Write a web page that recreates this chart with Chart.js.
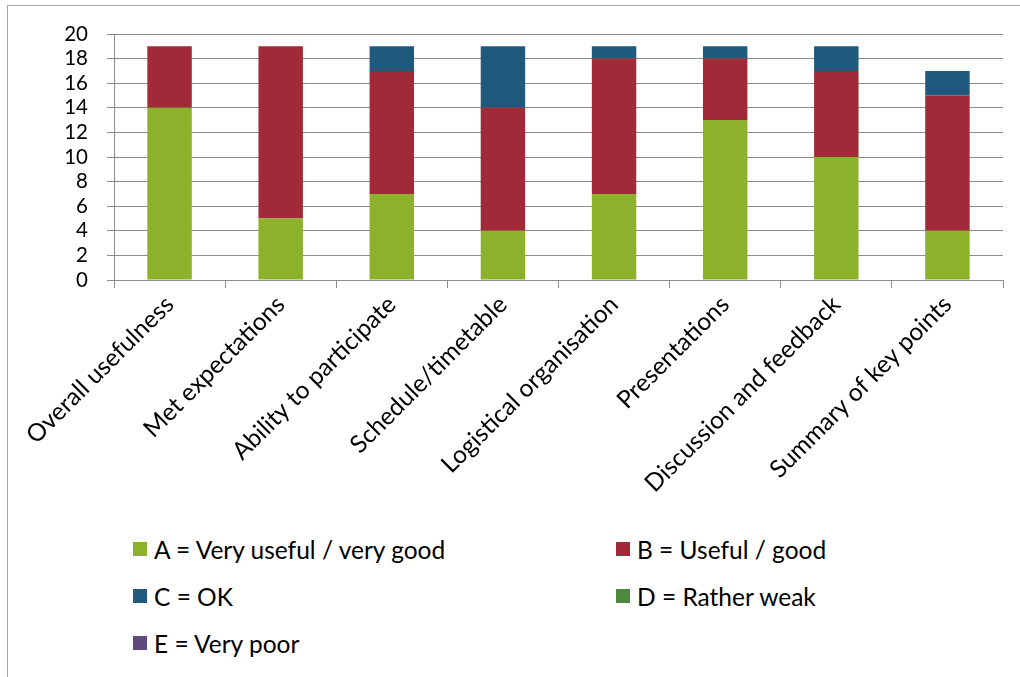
<!DOCTYPE html>
<html>
<head>
<meta charset="utf-8">
<script src="https://cdn.jsdelivr.net/npm/chart.js@4/dist/chart.umd.min.js"></script>
<style>
  html, body { margin: 0; padding: 0; background: #fff; overflow: hidden; }
  body { width: 1020px; height: 677px; position: relative; font-family: Lato, sans-serif; }
  #frame {
    position: absolute; left: 7px; top: 5px; width: 1100px; height: 700px;
    border-left: 1px solid #a6a6a6; border-top: 1px solid #a6a6a6;
  }
  #surveyChart { position: absolute; left: 0; top: 0; }
  .legend-item {
    position: absolute; display: flex; align-items: center;
    font-size: 24.5px; color: #000; white-space: nowrap; height: 30px;
  }
  .legend-item .swatch { width: 14px; height: 14px; margin-right: 7px; flex: none; }
</style>
</head>
<body>
<div id="frame"></div>
<canvas id="surveyChart" width="1020" height="500"></canvas>
<div id="legend"></div>
<script>
// --------------- Data ---------------
const categories = [
  'Overall usefulness',
  'Met expectations',
  'Ability to participate',
  'Schedule/timetable',
  'Logistical organisation',
  'Presentations',
  'Discussion and feedback',
  'Summary of key points',
];

const seriesLabels = [
  'A = Very useful / very good',
  'B = Useful / good',
  'C = OK',
  'D = Rather weak',
  'E = Very poor',
];
const seriesColors = ['#8bb22a', '#a12a38', '#1f5a7d', '#4e8a3e', '#5f4a7b'];

const ratingA = [14, 5, 7, 4, 7, 13, 10, 4];
const ratingB = [5, 14, 10, 10, 11, 5, 7, 11];
const ratingC = [0, 0, 2, 5, 1, 1, 2, 2];
const ratingD = [0, 0, 0, 0, 0, 0, 0, 0];
const ratingE = [0, 0, 0, 0, 0, 0, 0, 0];

const yTicks = [0, 2, 4, 6, 8, 10, 12, 14, 16, 18, 20];

const GRID = '#8c8c8c';

// --------------- Chart ---------------
const datasets = [ratingA, ratingB, ratingC, ratingD, ratingE].map((vals, i) => ({
  label:              seriesLabels[i],
  data:               vals,
  backgroundColor:    seriesColors[i],
  borderWidth:        0,
  barPercentage:      0.4,
  categoryPercentage: 1,
}));

new Chart(document.getElementById('surveyChart').getContext('2d'), {
  type: 'bar',
  data: { labels: categories, datasets },
  options: {
    responsive: false,
    animation: false,
    layout: { padding: { top: 34, right: 17, left: 0, bottom: 0 } },
    plugins: { legend: { display: false }, tooltip: { enabled: false } },
    scales: {
      x: {
        stacked: true,
        afterFit: s => { s.height = 220; },
        grid: {
          offset: true, drawOnChartArea: false, drawTicks: true,
          tickLength: 8, color: GRID, lineWidth: 1,
        },
        border: { color: GRID, width: 1 },
        ticks: {
          minRotation: 45, maxRotation: 45, autoSkip: false, padding: 2,
          color: '#000', font: { family: 'Lato', size: 24.5 },
        },
      },
      y: {
        stacked: true,
        min: 0, max: 20,
        afterFit: s => { s.width = 114; },
        afterBuildTicks: s => { s.ticks = yTicks.map(v => ({ value: v })); },
        grid: { color: GRID, lineWidth: 1, tickLength: 7 },
        border: { color: GRID, width: 1 },
        ticks: {
          autoSkip: false, padding: 19, color: '#000',
          font: { family: 'Lato', size: 20.5 },
        },
      },
    },
  },
});

// --------------- Legend (two columns, row-major) ---------------
const legendEl = document.getElementById('legend');
seriesLabels.forEach((label, i) => {
  const item = document.createElement('div');
  item.className = 'legend-item';
  item.style.left = (i % 2 === 0 ? 133 : 616) + 'px';
  item.style.top  = (534 + Math.floor(i / 2) * 47) + 'px';
  const sw = document.createElement('span');
  sw.className = 'swatch';
  sw.style.background = seriesColors[i];
  const txt = document.createElement('span');
  txt.textContent = label;
  item.appendChild(sw);
  item.appendChild(txt);
  legendEl.appendChild(item);
});
</script>
</body>
</html>
